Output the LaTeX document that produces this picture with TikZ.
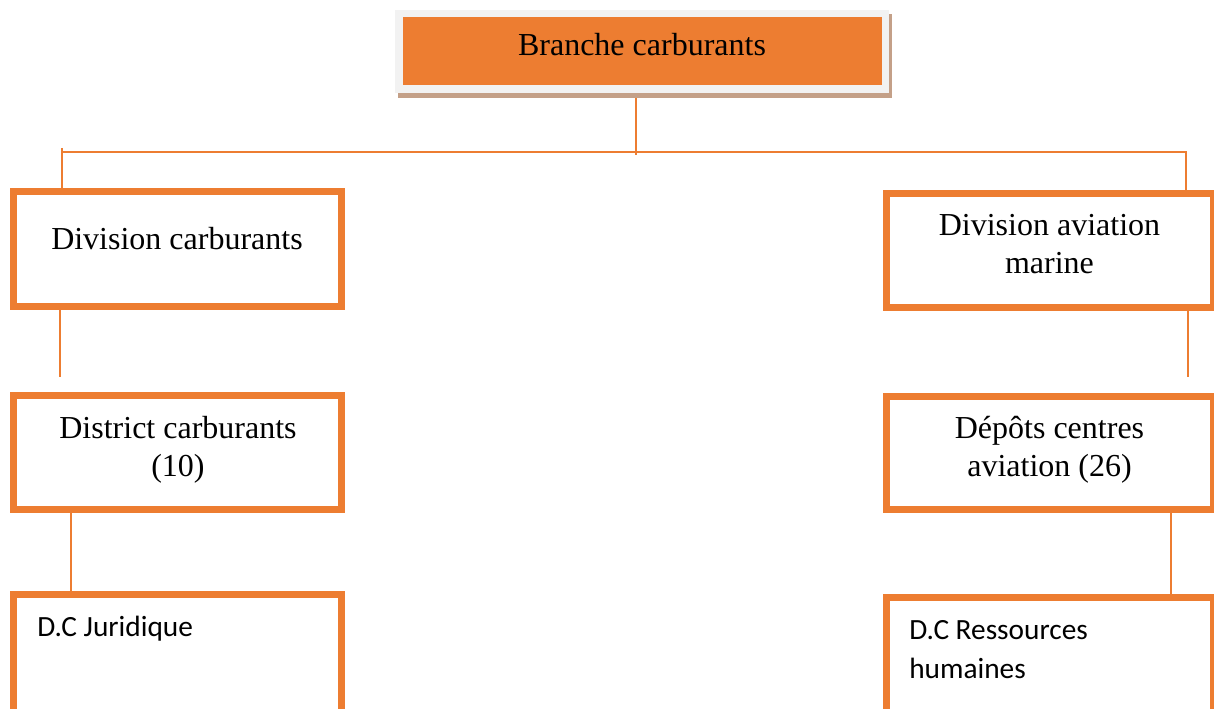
\documentclass[tikz,border=0pt]{standalone}
\usepackage{fontspec}
\setmainfont{Liberation Serif}
\newfontfamily\calibri{Carlito}
\definecolor{orgline}{HTML}{ED7D31}
\definecolor{shadowtan}{HTML}{C4A088}
\definecolor{framegray}{HTML}{F2F2F2}
\begin{document}
\begin{tikzpicture}[x=0.75pt,y=-0.75pt,
  unitbox/.style={draw=orgline,line width=5.25pt,minimum width=246pt,inner sep=0pt},
  boxtext/.style={align=center,font=\fontsize{24}{28.5}\selectfont,anchor=base,inner sep=0pt},
  smalltext/.style={align=left,font=\calibri\fontsize{22}{29}\selectfont,anchor=base west,inner sep=0pt},
  link/.style={draw=orgline,line width=1.5pt}]

\useasboundingbox (0,0) rectangle (1214,709);

% top box with its frame and shadow
\fill[shadowtan] (398,14) rectangle (892,98);
\fill[framegray] (395,10) rectangle (889,93);
\node[fill=orgline,minimum width=359.25pt,minimum height=51pt,inner sep=0pt] (branche) at (642.5,51) {};
\node[boxtext] (branchetxt) at (642,56) {Branche carburants};

\node[unitbox,minimum height=86.25pt] (divcarb) at (177,249.5) {};
\node[unitbox,minimum height=85.5pt] (district) at (177,452) {};
\node[unitbox,minimum height=94.5pt] (juridique) at (177,657) {};
\node[unitbox,minimum width=245.25pt,minimum height=85.5pt] (divav) at (1049.5,251) {};
\node[unitbox,minimum width=245.25pt,minimum height=84.75pt] (depots) at (1049.5,452.5) {};
\node[unitbox,minimum width=245.25pt,minimum height=92.25pt] (rh) at (1049.5,658.5) {};

% base anchor of a two-line node sits on its last line
\node[boxtext] (divcarbtxt) at (177,250) {Division carburants};
\node[boxtext] (divavtxt) at (1049.5,274) {Division aviation\\marine};
\node[boxtext] (districttxt) at (178,476) {District carburants\\(10)};
\node[boxtext] (depotstxt) at (1049.5,476) {Dépôts centres\\aviation (26)};
\node[smalltext] (juridiquetxt) at (37,636) {D.C Juridique};
\node[smalltext] (rhtxt) at (909,678) {D.C Ressources\\humaines};

% connectors
\coordinate (hub) at (636,152);
\coordinate (hubL) at (62,152);
\coordinate (hubR) at (1186,152);
\coordinate (dcend) at (60,377);
\coordinate (daend) at (1188,377);
\draw[link] ([yshift=-9.75pt]branche.south -| hub) -- ([yshift=-2.25pt]hub);
\draw[link] (hubL) -- ([xshift=0.75pt]hubR);
\draw[link] ([yshift=3pt]hubL) -- (hubL |- divcarb.north);
\draw[link] (hubR) -- (hubR |- divav.north);
\draw[link] (divcarb.south -| dcend) -- (dcend);
\draw[link] (divav.south -| daend) -- (daend);
\draw[link] ([xshift=45.75pt]district.south west) -- ([xshift=45.75pt]juridique.north west);
\draw[link] ([xshift=-34.5pt]depots.south east) -- ([xshift=-34.5pt]rh.north east);

\end{tikzpicture}
\end{document}
